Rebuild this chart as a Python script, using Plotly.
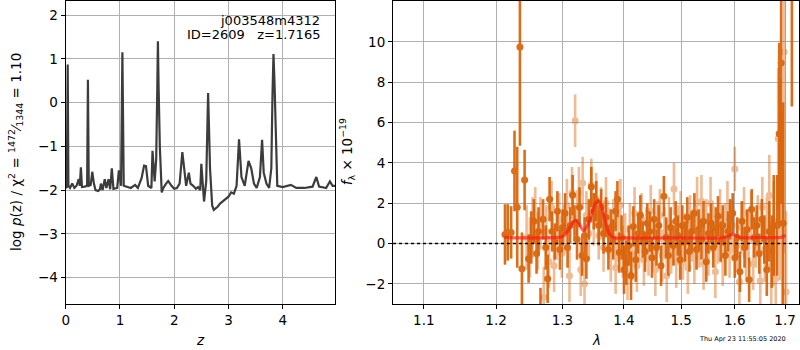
import plotly.graph_objects as go
import numpy as np

# ---------------- Left panel: log p(z) ----------------
z_grid = [0.0, 0.02, 0.037, 0.05, 0.08, 0.12, 0.16, 0.2, 0.24, 0.26, 0.28, 0.3, 0.35, 0.395,
          0.41, 0.425, 0.46, 0.49, 0.52, 0.55, 0.6, 0.63, 0.65, 0.68, 0.72, 0.75, 0.79, 0.82,
          0.85, 0.88, 0.95, 0.98, 1.02, 1.045, 1.07, 1.15, 1.2, 1.28, 1.33, 1.4, 1.445, 1.48,
          1.52, 1.58, 1.6, 1.64, 1.668, 1.688, 1.70, 1.712, 1.735, 1.77, 1.8, 1.85, 1.89, 1.95,
          2.0, 2.05, 2.1, 2.15, 2.18, 2.22, 2.27, 2.3, 2.35, 2.4, 2.44, 2.48, 2.50, 2.55, 2.59,
          2.612, 2.625, 2.638, 2.66, 2.7, 2.73, 2.8, 2.85, 2.9, 2.95, 3.0, 3.05, 3.1, 3.15, 3.195,
          3.24, 3.3, 3.37, 3.42, 3.47, 3.52, 3.58, 3.62, 3.65, 3.7, 3.75, 3.79, 3.812, 3.83, 3.848,
          3.865, 3.9, 4.0, 4.15, 4.25, 4.4, 4.55, 4.62, 4.67, 4.8, 4.87, 4.92, 4.97]
logp = [-1.92, -1.95, 0.87, -1.9, -1.95, -1.85, -1.95, -1.9, -1.75, -1.9, -1.48, -1.93, -1.92, -1.9,
        0.52, -1.9, -1.88, -1.58, -1.85, -2.0, -2.02, -1.98, -1.85, -2.0, -1.75, -1.95, -1.75, -1.98,
        -1.5, -1.97, -1.95, -1.55, -1.9, 1.15, -1.9, -1.93, -1.95, -1.88, -1.95, -1.72, -1.44, -1.45,
        -1.9, -1.95, -1.1, -1.8, -1.3, 0.3, 1.40, 0.4, -1.0, -2.05, -1.95, -1.85, -1.79, -1.9,
        -1.97, -1.95, -1.85, -1.13, -1.5, -1.9, -1.6, -1.85, -1.9, -1.97, -1.93, -2.0, -1.4, -2.26, -1.8,
        -0.6, 0.22, -0.4, -1.5, -2.35, -2.45, -2.38, -2.3, -2.25, -2.2, -2.15, -2.05, -2.08, -1.9, -0.84,
        -1.7, -1.9, -1.33, -1.5, -1.85, -1.95, -1.7, -0.85, -1.6, -1.85, -1.95, -1.5, 0.2, 1.11, 0.5,
        -0.5, -1.9, -1.93, -1.88, -1.95, -1.95, -1.92, -1.7, -1.92, -1.95, -1.8, -1.9, -1.9]

# ---------------- Right panel: spectrum ----------------
wave_a = [1.213, 1.217, 1.222, 1.227, 1.231, 1.235, 1.238, 1.242, 1.248,
          1.252, 1.256, 1.260, 1.263, 1.266, 1.270, 1.274, 1.277, 1.280, 1.284, 1.288, 1.292, 1.296,
          1.300, 1.304, 1.308, 1.312, 1.316, 1.319, 1.323, 1.327, 1.331, 1.335, 1.338, 1.342, 1.346,
          1.350, 1.354, 1.358, 1.362, 1.366, 1.370, 1.374, 1.378,
          1.382, 1.386, 1.389, 1.392, 1.396, 1.400, 1.404, 1.408, 1.412, 1.416, 1.420, 1.424, 1.428,
          1.432, 1.436, 1.440, 1.444, 1.448,
          1.452, 1.456, 1.460, 1.464, 1.469, 1.473, 1.477, 1.481, 1.486, 1.490, 1.494, 1.498, 1.502,
          1.507, 1.511, 1.515, 1.519, 1.524, 1.528, 1.532, 1.537, 1.541, 1.546,
          1.550, 1.555, 1.559, 1.564, 1.568, 1.573, 1.577, 1.582, 1.587, 1.591, 1.596, 1.600, 1.605,
          1.610, 1.614, 1.619, 1.624, 1.628, 1.633, 1.638, 1.643, 1.648, 1.653, 1.658, 1.663, 1.668,
          1.673, 1.677, 1.684, 1.688, 1.692, 1.696, 1.714]
flux_a = [0.45, 0.55, 0.55, 3.6, 1.8, 9.75, -1.25, 3.15, -0.75,
          0.3, 1.1, -0.5, 0.6, -4.0, 1.2, -0.2, -1.75, 2.2, 0.6, 0.1, 1.6, -0.3,
          0.8, 1.5, -0.2, 0.9, 2.4, 1.0, 0.2, 1.8, -0.6, 0.4, -0.75, 1.2, 2.8,
          1.6, 2.1, 0.9, 1.8, 0.5, 1.3, -0.3, 0.8,
          0.2, 1.6, 2.2, -0.45, 0.3, -1.3, -0.95, -0.1, -1.6, 0.85, -0.8, 0.5, 1.4,
          0.2, -0.4, 1.0, 0.6, -0.7,
          1.2, -0.2, 0.9, -1.1, 2.35, 0.3, -0.6, 0.8, -0.1, 1.1, 0.4, -0.8, 0.9,
          0.1, 1.3, -0.4, 0.6, 1.5, -0.3, 0.7, 0.2, 1.1, -0.9,
          0.5, 1.0, -0.2, 0.8, 1.35, 0.1, 0.9, -0.6, 0.6, 1.2, 1.5, -0.7, 0.3,
          -1.4, 1.1, -0.2, 0.7, -1.8, 1.7, 0.3, 0.9, -0.5, 1.2, 0.2, -1.3, 0.6,
          -0.4, 0.9, 0.9, 5.45, 8.96, 1.0, 14.0]
err_a = [1.5, 1.4, 1.3, 2.0, 3.0, 4.9, 1.8, 1.5, 1.2,
         1.3, 1.1, 1.0, 1.2, 1.8, 1.0, 1.1, 1.2, 1.1, 1.0, 0.9, 1.0, 1.0,
         0.9, 1.0, 1.0, 0.9, 1.0, 0.9, 1.0, 1.0, 1.0, 0.9, 1.0, 1.0, 1.0,
         0.9, 1.0, 1.0, 0.9, 1.0, 1.0, 1.0, 0.9,
         1.0, 1.0, 0.9, 1.0, 1.1, 1.2, 1.1, 1.0, 1.2, 1.0, 1.1, 1.0, 1.0,
         0.9, 1.0, 1.0, 1.0, 1.0,
         1.0, 0.9, 1.0, 1.0, 1.0, 1.0, 1.0, 1.0, 1.0, 1.0, 1.0, 1.0, 1.0,
         1.0, 1.0, 1.0, 1.0, 1.0, 1.0, 1.0, 1.0, 1.0, 1.0,
         1.0, 1.0, 1.0, 1.0, 1.0, 1.0, 1.0, 1.0, 1.0, 1.0, 1.0, 1.0, 1.0,
         1.0, 1.0, 1.0, 1.0, 1.1, 1.0, 1.0, 1.0, 1.0, 1.0, 1.2, 1.3, 1.5,
         1.8, 2.5, 2.5, 4.5, 7.0, 6.0, 7.2]

wave_b = [1.245, 1.250, 1.254, 1.258, 1.262, 1.266, 1.271, 1.275, 1.279, 1.283, 1.287, 1.291,
          1.295, 1.299, 1.303, 1.307, 1.311, 1.315, 1.320, 1.323, 1.326, 1.329, 1.332, 1.335,
          1.338, 1.342, 1.346, 1.350, 1.354, 1.358, 1.362, 1.366, 1.370, 1.374, 1.378, 1.382,
          1.386, 1.390, 1.394, 1.398, 1.402, 1.406, 1.410, 1.414, 1.418, 1.422, 1.426, 1.430,
          1.434, 1.438, 1.442, 1.446, 1.450, 1.454, 1.458, 1.462, 1.466, 1.470, 1.474, 1.478,
          1.482, 1.487, 1.491, 1.495, 1.499, 1.503, 1.507, 1.512, 1.516, 1.520, 1.524, 1.529,
          1.533, 1.537, 1.541, 1.546, 1.550, 1.554, 1.559, 1.563, 1.568, 1.572, 1.577, 1.581,
          1.586, 1.590, 1.595, 1.600, 1.604, 1.609, 1.613, 1.618, 1.622, 1.627, 1.632, 1.636,
          1.641, 1.645, 1.650, 1.654, 1.659, 1.663, 1.668, 1.672, 1.677, 1.681, 1.686, 1.690,
          1.694, 1.698, 1.702]
flux_b = [0.3, -0.2, 0.8, 1.4, 0.1, 1.0, -2.66, 0.6, -0.9, 1.8, -1.1, 0.4,
          1.2, -0.5, 0.7, 1.9, -1.6, 2.5, 6.09, 1.3, 2.5, -1.3, 3.0, -2.0,
          1.4, 0.5, 2.9, 1.2, 2.2, 0.4, 1.5, -0.2, 2.0, 0.6, -0.6, 0.9,
          -1.2, 0.4, 1.9, -0.4, 0.2, -1.5, 0.7, -0.5, 1.5, -1.1, 0.3, 1.2,
          -0.8, 0.5, -0.3, 1.6, 0.0, -1.3, 0.8, 1.4, -0.6, 0.5, -1.6, 1.0,
          -0.2, 2.7, -0.9, 0.6, 1.3, -0.5, 0.2, -1.2, 1.1, 0.4, -0.7, 2.0,
          0.1, 2.1, -1.0, 0.9, -0.3, 2.0, 0.6, -1.4, 0.3, 1.4, -0.8, 0.7,
          1.8, -0.4, 0.9, 3.7, -0.1, -1.9, 0.8, 1.5, -0.6, 0.4, 1.3, -1.0,
          0.2, 1.0, -1.85, 1.8, -0.3, 0.6, 2.4, -1.1, 0.5, -1.75, 5.2, 3.17,
          1.0, 9.5, -2.4]
err_b = [1.6, 1.5, 1.5, 1.4, 1.4, 1.3, 1.5, 1.3, 1.3, 1.3, 1.3, 1.2,
         1.3, 1.2, 1.2, 1.3, 1.3, 1.3, 1.3, 1.3, 1.3, 1.3, 1.3, 1.3,
         1.2, 1.3, 1.3, 1.3, 1.3, 1.2, 1.3, 1.2, 1.3, 1.2, 1.3, 1.3,
         1.3, 1.3, 1.3, 1.3, 1.3, 1.3, 1.3, 1.3, 1.3, 1.3, 1.3, 1.3,
         1.3, 1.3, 1.3, 1.3, 1.3, 1.3, 1.3, 1.3, 1.3, 1.3, 1.3, 1.3,
         1.3, 1.3, 1.3, 1.3, 1.3, 1.3, 1.3, 1.3, 1.3, 1.3, 1.3, 1.3,
         1.3, 1.3, 1.3, 1.3, 1.3, 1.3, 1.3, 1.3, 1.3, 1.3, 1.3, 1.3,
         1.3, 1.3, 1.3, 1.1, 1.3, 1.3, 1.3, 1.3, 1.3, 1.3, 1.3, 1.3,
         1.4, 1.4, 1.4, 1.5, 1.6, 1.7, 2.0, 2.2, 2.6, 3.0, 3.5, 5.0,
         5.5, 10.0, 4.0]

model_wave = [1.212, 1.290, 1.300, 1.308, 1.315, 1.321, 1.327, 1.333, 1.340, 1.347, 1.353,
              1.358, 1.363, 1.369, 1.375, 1.382, 1.400, 1.500, 1.580, 1.588, 1.595, 1.602,
              1.610, 1.650, 1.690, 1.697, 1.701]
model_flux = [0.3, 0.3, 0.35, 0.6, 1.0, 1.15, 0.95, 0.65, 0.9, 1.5, 2.0,
              2.1, 1.8, 1.1, 0.5, 0.3, 0.28, 0.28, 0.3, 0.38, 0.45, 0.4,
              0.3, 0.3, 0.3, 0.35, 0.4]

x_ticks_right = [1.1, 1.2, 1.3, 1.4, 1.5, 1.6, 1.7]
x_ticklabels_right = ["1.1", "1.2", "1.3", "1.4", "1.5", "1.6", "1.7"]

DARK = "#d95f02"
FONT = "DejaVu Sans"

fig = go.Figure()

fig.add_trace(go.Scatter(x=z_grid, y=logp, mode="lines",
                         line=dict(color="rgb(60,60,60)", width=2.2),
                         xaxis="x", yaxis="y", showlegend=False))

fig.add_trace(go.Scatter(x=wave_a, y=flux_a, mode="markers",
                         marker=dict(color=DARK, size=7),
                         error_y=dict(type="data", array=err_a, color=DARK, thickness=2.6, width=0),
                         opacity=0.9, xaxis="x2", yaxis="y2", showlegend=False))
fig.add_trace(go.Scatter(x=wave_b, y=flux_b, mode="markers",
                         marker=dict(color=DARK, size=7),
                         error_y=dict(type="data", array=err_b, color=DARK, thickness=2.6, width=0),
                         opacity=0.42, xaxis="x2", yaxis="y2", showlegend=False))

fig.add_trace(go.Scatter(x=model_wave, y=model_flux, mode="lines", line_shape="spline",
                         line=dict(color="rgba(255,20,20,0.65)", width=3.2),
                         xaxis="x2", yaxis="y2", showlegend=False))

fig.add_trace(go.Scatter(x=[1.0599, 1.7288], y=[0, 0], mode="lines",
                         line=dict(color="black", width=1.6, dash="dot"),
                         xaxis="x2", yaxis="y2", showlegend=False))

axis_common = dict(showline=True, linecolor="black", linewidth=1.2, mirror=True,
                   showgrid=True, gridcolor="#b0b0b0", gridwidth=1,
                   ticks="outside", ticklen=4, tickcolor="black", zeroline=False,
                   tickfont=dict(family=FONT, size=13.5, color="black"))

Y0, Y1 = 1 - 304 / 350, 1 - 1 / 350
fig.update_layout(
    width=800, height=350,
    margin=dict(l=0, r=0, t=0, b=0),
    paper_bgcolor="white", plot_bgcolor="white",
    font=dict(family=FONT, color="black"),
    xaxis=dict(domain=[62 / 800, 333 / 800], range=[0, 4.97], tickvals=[0, 1, 2, 3, 4],
               anchor="y", **axis_common),
    yaxis=dict(domain=[Y0, Y1], range=[-4.6, 2.32], tickvals=[-4, -3, -2, -1, 0, 1, 2],
               anchor="x", **axis_common),
    xaxis2=dict(domain=[391 / 800, 799 / 800], type="log",
                range=[np.log10(1.0599), np.log10(1.7288)],
                tickvals=x_ticks_right, ticktext=x_ticklabels_right,
                anchor="y2", **axis_common),
    yaxis2=dict(domain=[Y0, Y1], range=[-3, 12.03], tickvals=[-2, 0, 2, 4, 6, 8, 10],
                anchor="x2", **axis_common),
)

annotations = [
    dict(text="j003548m4312", x=320, y=20),
    dict(text="ID=2609   z=1.7165", x=320, y=35),
]
for a in annotations:
    fig.add_annotation(text=a["text"], x=a["x"] / 800, y=1 - a["y"] / 350, xref="paper", yref="paper",
                       xanchor="right", yanchor="middle", showarrow=False,
                       font=dict(family=FONT, size=13, color="black"))

fig.add_annotation(text="log <i>p</i>(z) / χ<sup>2</sup> = <sup>1472</sup>⁄<sub>1344</sub> = 1.10",
                   x=12 / 800, y=1 - 152 / 350, xref="paper", yref="paper", textangle=-90,
                   xanchor="center", yanchor="middle", showarrow=False,
                   font=dict(family=FONT, size=13.5, color="black"))
fig.add_annotation(text="<i>f</i><sub>λ</sub> × 10<sup>−19</sup>",
                   x=345 / 800, y=1 - 152 / 350, xref="paper", yref="paper", textangle=-90,
                   xanchor="center", yanchor="middle", showarrow=False,
                   font=dict(family=FONT, size=13.5, color="black"))
fig.add_annotation(text="<i>z</i>", x=197 / 800, y=1 - 340 / 350, xref="paper", yref="paper",
                   xanchor="center", yanchor="middle", showarrow=False,
                   font=dict(family=FONT, size=13.5, color="black"))
fig.add_annotation(text="<i>λ</i>", x=595 / 800, y=1 - 340 / 350, xref="paper", yref="paper",
                   xanchor="center", yanchor="middle", showarrow=False,
                   font=dict(family=FONT, size=13.5, color="black"))
fig.add_annotation(text="Thu Apr 23 11:55:05 2020", x=742 / 800, y=1 - 339 / 350,
                   xref="paper", yref="paper", xanchor="center", yanchor="middle", showarrow=False,
                   font=dict(family=FONT, size=6.5, color="black"))

fig.write_html("out.html", config={"displayModeBar": False},
               post_script="document.body.style.margin='0px';document.body.style.overflow='hidden';")
